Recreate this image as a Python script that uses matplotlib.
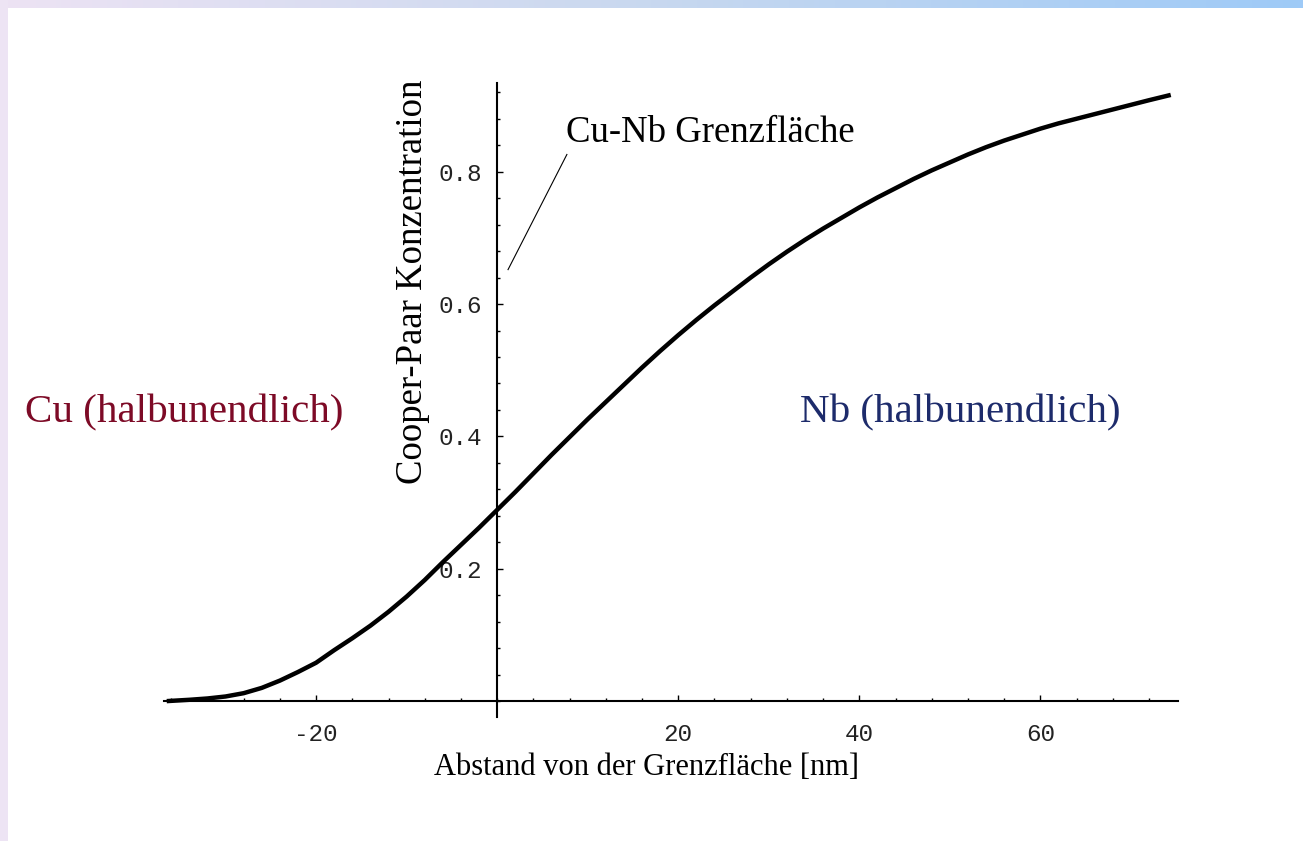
import matplotlib.pyplot as plt
import numpy as np
from matplotlib.colors import LinearSegmentedColormap
from matplotlib.ticker import FixedLocator, MultipleLocator

# Abstand von der Grenzfläche [nm] und Cooper-Paar Konzentration
abstand = [-36.5, -34, -32, -30, -28, -26, -24, -22, -20, -18, -16, -14, -12, -10,
           -8, -6, -4, -2, 0, 2, 4, 6, 8, 10, 12, 14, 16, 18, 20, 22, 24, 26, 28,
           30, 32, 34, 36, 38, 40, 42, 44, 46, 48, 50, 52, 54, 56, 58, 60, 62, 64,
           66, 68, 70, 72, 74.4]
konzentration = [0.000, 0.002, 0.004, 0.007, 0.012, 0.020, 0.031, 0.044, 0.058, 0.077,
                 0.095, 0.114, 0.135, 0.158, 0.183, 0.210, 0.236, 0.262, 0.289, 0.316,
                 0.344, 0.372, 0.399, 0.426, 0.452, 0.478, 0.504, 0.529, 0.553, 0.576,
                 0.598, 0.619, 0.640, 0.660, 0.679, 0.697, 0.714, 0.730, 0.746, 0.761,
                 0.775, 0.789, 0.802, 0.814, 0.826, 0.837, 0.847, 0.856, 0.865, 0.873,
                 0.880, 0.887, 0.894, 0.901, 0.908, 0.916]

x_major = [-20, 20, 40, 60]
y_major = [0.2, 0.4, 0.6, 0.8]

W, H = 1303, 841
fig = plt.figure(figsize=(W / 100, H / 100), dpi=100)
fig.patch.set_facecolor('white')


def px(x0, y0, w, h):
    # pixel box (von oben links) -> figure fraction
    return [x0 / W, 1 - (y0 + h) / H, w / W, h / H]


# Rahmen oben (Farbverlauf) und links
grad = LinearSegmentedColormap.from_list('rand', ['#ede3f4', '#c8d8ef', '#9ecaf7'])
top = fig.add_axes(px(0, 0, W, 8))
top.imshow(np.linspace(0, 1, 256)[None, :], aspect='auto', cmap=grad)
top.axis('off')
left = fig.add_axes(px(0, 0, 8, H))
left.set_facecolor('#ede4f4')
left.set_xticks([])
left.set_yticks([])
for s in left.spines.values():
    s.set_visible(False)

ax = fig.add_axes(px(164, 83, 1178 - 164, 717 - 83))
ax.set_facecolor('none')
ax.plot(abstand, konzentration, color='black', lw=3.2, solid_capstyle='butt')
ax.set_xlim(-36.8, 75.2)
ax.set_ylim(-0.024, 0.934)

ax.spines['right'].set_visible(False)
ax.spines['top'].set_visible(False)
ax.spines['left'].set_position(('data', 0))
ax.spines['bottom'].set_position(('data', 0))
ax.spines['left'].set_linewidth(1.5)
ax.spines['bottom'].set_linewidth(1.5)

ax.xaxis.set_major_locator(FixedLocator(x_major))
ax.xaxis.set_minor_locator(MultipleLocator(4))
ax.yaxis.set_major_locator(FixedLocator(y_major))
ax.yaxis.set_minor_locator(MultipleLocator(0.04))
ax.set_xticklabels([str(v) for v in x_major], family='Liberation Mono', fontsize=17.5,
                   color='#222222')
ax.set_yticklabels([f'{v:.1f}' for v in y_major], family='Liberation Mono', fontsize=17.5,
                   color='#222222')
ax.tick_params(which='major', direction='in', length=4, width=1, pad=16)
ax.tick_params(axis='y', which='major', pad=11)
ax.tick_params(which='minor', direction='in', length=2.5, width=1)

serif = 'Liberation Serif'
fig.text(646 / W, 1 - 775 / H, 'Abstand von der Grenzfläche [nm]',
         family=serif, fontsize=22, ha='center', va='baseline')
fig.text(413 / W, 1 - 282 / H, 'Cooper-Paar Konzentration',
         family=serif, fontsize=26.5, rotation=90, ha='center', va='center')
fig.text(566 / W, 1 - 142 / H, 'Cu-Nb Grenzfläche',
         family=serif, fontsize=26.5, ha='left', va='baseline')
fig.text(25 / W, 1 - 422 / H, 'Cu (halbunendlich)',
         family=serif, fontsize=29.5, color='#7d0a26', ha='left', va='baseline')
fig.text(800 / W, 1 - 422 / H, 'Nb (halbunendlich)',
         family=serif, fontsize=29.5, color='#1d2b6b', ha='left', va='baseline')

# Hinweislinie zur Grenzfläche
ax.plot([1.2, 7.7], [0.652, 0.826], color='black', lw=0.8)

fig.savefig('out.png', dpi=100)
